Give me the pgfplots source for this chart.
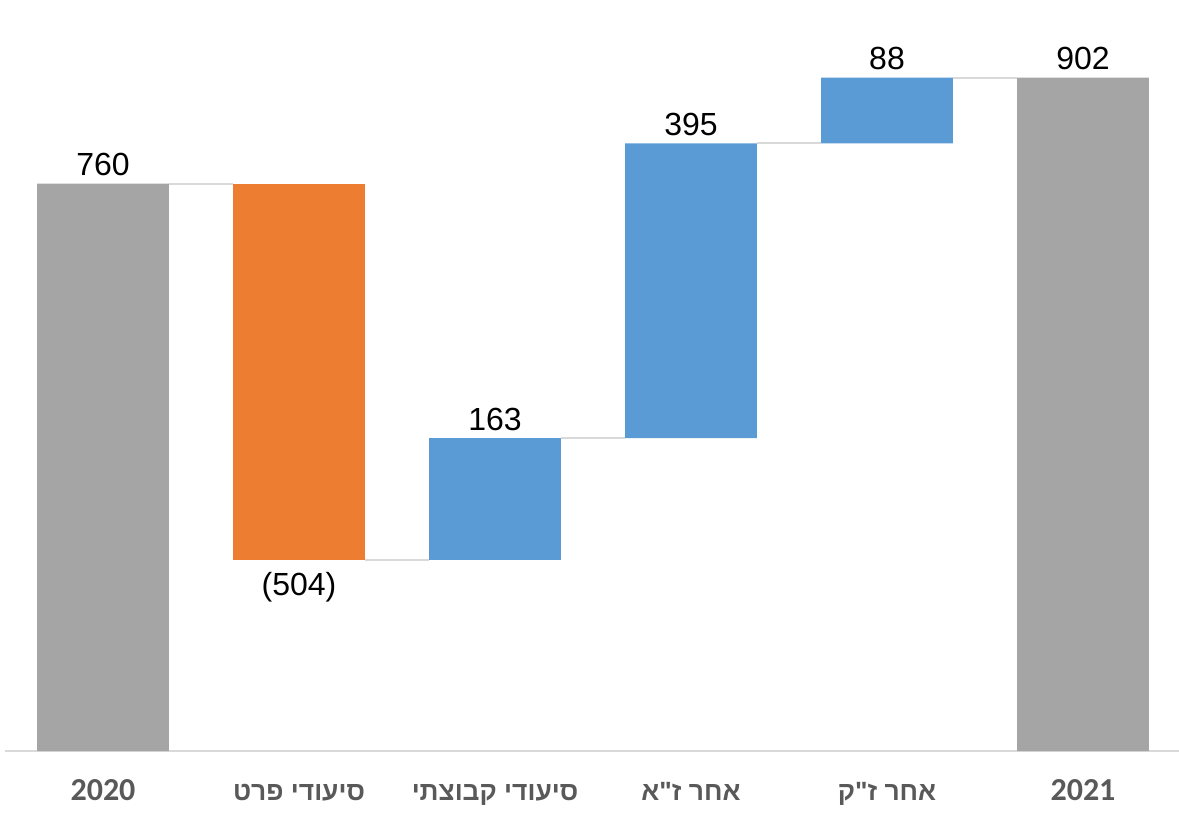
\documentclass[border=0pt]{standalone}
\usepackage{pgfplots}
\pgfplotsset{compat=1.18}
\usepackage{pgfplotstable}
\usepackage{fontspec}
\setmainfont{Liberation Sans}
\newfontfamily\hebfont[Script=Hebrew]{Liberation Sans}
\newfontfamily\calfont{Carlito}
\TeXXeTstate=1
\definecolor{cgray}{HTML}{A5A5A5}
\definecolor{corange}{HTML}{ED7D31}
\definecolor{cblue}{HTML}{5B9BD5}
\definecolor{axisgray}{HTML}{D9D9D9}
\definecolor{labelgray}{HTML}{595959}
\pgfplotstableread{
x base total neg pos
0 0 760 0 0
1 256 0 504 0
2 256 0 0 163
3 419 0 0 395
4 814 0 0 88
5 0 902 0 0
}\wfdata
\newcommand{\hebf}{\hebfont\bfseries\fontsize{13.2bp}{16bp}\selectfont}
\newcommand{\yrf}{\calfont\bfseries\fontsize{16bp}{18bp}\selectfont}
\begin{document}
\begin{tikzpicture}
\pgfplotsset{
  wfgeom/.style={scale only axis, width=588bp, height=375.5bp,
    xmin=-0.5, xmax=5.5, ymin=0, ymax=1006, clip=false},
}
\begin{axis}[name=ax, wfgeom,
  ybar stacked, bar width=0.673,
  axis x line*=bottom, axis y line=none,
  x axis line style={draw=axisgray, line width=1bp, -},
  xtick={0,1,2,3,4,5},
  xticklabels={{\yrf 2020},
    {\hebf\beginR סיעודי פרט\endR},
    {\hebf\beginR סיעודי קבוצתי\endR},
    {\hebf\beginR אחר ז"א\endR},
    {\hebf\beginR אחר ז"ק\endR},
    {\yrf 2021}},
  major tick length=0pt, ytick=\empty,
  xticklabel style={anchor=base, yshift=-24.5bp, text=labelgray},
]
\addplot[fill=none, draw=none] table[x=x, y=base]{\wfdata};
\addplot[fill=cgray, draw=none] table[x=x, y=total]{\wfdata};
\addplot[fill=corange, draw=none] table[x=x, y=neg]{\wfdata};
\addplot[fill=cblue, draw=none] table[x=x, y=pos]{\wfdata};
\end{axis}
\begin{axis}[wfgeom, hide axis]
\addplot[axisgray, line width=1bp] coordinates {(0.3365,760) (0.6635,760)};
\addplot[axisgray, line width=1bp] coordinates {(1.3365,256) (1.6635,256)};
\addplot[axisgray, line width=1bp] coordinates {(2.3365,419) (2.6635,419)};
\addplot[axisgray, line width=1bp] coordinates {(3.3365,814) (3.6635,814)};
\addplot[axisgray, line width=1bp] coordinates {(4.3365,902) (4.6635,902)};
\addplot[draw=none, mark=none, nodes near coords, point meta=explicit symbolic,
  every node near coord/.style={anchor=south, inner sep=0pt, yshift=3.5bp, text=black,
    font=\fontsize{16bp}{18bp}\selectfont}]
  coordinates {(0,760)[760] (2,419)[163] (3,814)[395] (4,902)[88] (5,902)[902]};
\addplot[draw=none, mark=none, nodes near coords, point meta=explicit symbolic,
  every node near coord/.style={anchor=north, inner sep=0pt, yshift=-6bp, text=black,
    font=\fontsize{16bp}{18bp}\selectfont}]
  coordinates {(1,256)[(504)]};
\end{axis}
\pgfresetboundingbox
\path (ax.south west) ++(-2.5bp,-42.5bp) rectangle ++(589.5bp,418bp);
\end{tikzpicture}
\end{document}
